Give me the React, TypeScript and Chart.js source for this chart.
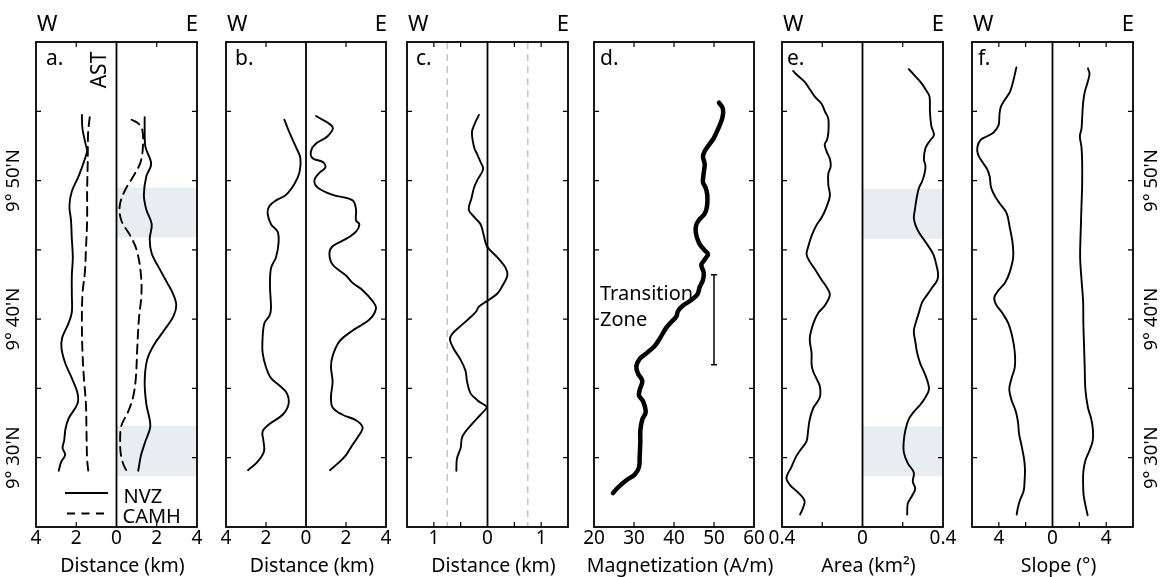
import React, { useEffect, useRef } from 'react';
import { Chart, registerables } from 'chart.js';

Chart.register(...registerables);

const W = 1163;
const H = 577;
const BOX_TOP = 42;
const BOX_BOTTOM = 527;
const FAMILY = '"Noto Sans", "DejaVu Sans", sans-serif';
const fnt = (s: number) => `${s}px ${FAMILY}`;
Chart.defaults.font.family = FAMILY;

// Shared latitude axis (minutes past 9°N)
const latMin = 25;
const latMax = 60;
const latTicks = [30, 35, 40, 45, 50, 55];
const latLabelTicks = [30, 40, 50];

// ---------- a. AST distance (km) ----------
const aNvzWestLat = [54.74, 53.73, 52.54, 52.14, 51.35, 50.29, 49.23, 48.17, 47.12, 45.79, 44.47, 43.15, 41.83, 40.5, 39.71, 38.65, 37.86, 36.8, 35.74, 34.68, 33.89, 32.83, 32.04, 31.24, 30.7, 30.2, 29.7, 29.06];
const aNvzWestKm = [1.72, 1.69, 1.52, 1.46, 1.62, 1.89, 2.22, 2.34, 2.26, 2.22, 2.17, 2.22, 2.22, 2.22, 2.38, 2.7, 2.73, 2.54, 2.22, 1.94, 1.94, 2.38, 2.54, 2.6, 2.68, 2.55, 2.75, 2.87];
const aCamhWestLat = [54.58, 53.47, 51.35, 49.23, 47.12, 45.0, 43.41, 41.83, 39.71, 37.59, 35.74, 33.89, 31.77, 29.92, 29.0];
const aCamhWestKm = [1.33, 1.41, 1.43, 1.46, 1.46, 1.52, 1.57, 1.69, 1.72, 1.69, 1.62, 1.52, 1.49, 1.46, 1.4];
const aNvzEastLat = [54.58, 53.47, 52.41, 51.22, 50.29, 48.97, 47.91, 46.85, 45.79, 44.74, 43.68, 42.62, 41.83, 41.03, 40.24, 39.18, 38.12, 37.06, 35.48, 33.89, 32.3, 31.24, 30.19, 29.06];
const aNvzEastKm = [1.4, 1.4, 1.44, 1.72, 1.48, 1.36, 1.48, 1.75, 1.65, 1.75, 2.12, 2.52, 2.81, 2.97, 2.84, 2.36, 1.85, 1.52, 1.4, 1.48, 1.68, 1.45, 1.22, 1.08];
const aCamhEastLat = [54.39, 54.13, 53.73, 52.67, 51.35, 50.29, 49.23, 48.17, 47.12, 46.06, 45.0, 43.41, 41.83, 39.97, 37.86, 35.74, 34.42, 33.36, 32.3, 31.24, 30.19, 29.39, 28.86];
const aCamhEastKm = [0.75, 1.08, 1.27, 1.32, 1.2, 0.83, 0.4, 0.16, 0.24, 0.67, 1.0, 1.2, 1.24, 1.11, 1.03, 0.96, 0.83, 0.59, 0.24, 0.18, 0.22, 0.38, 0.6];
const aBands = [[45.9, 49.5], [28.65, 32.3]];

// ---------- b. distance (km) ----------
const bWestLat = [54.39, 53.47, 52.41, 51.61, 50.56, 49.76, 48.97, 48.57, 48.17, 47.65, 46.85, 46.32, 45.53, 44.47, 43.68, 42.35, 40.77, 40.24, 39.71, 38.65, 37.59, 36.53, 35.74, 35.21, 34.68, 33.89, 33.1, 32.43, 31.9, 31.24, 30.45, 29.66, 29.1];
const bWestKm = [1.08, 0.83, 0.5, 0.28, 0.33, 0.58, 1.0, 1.5, 1.83, 1.92, 1.75, 1.42, 1.37, 1.5, 1.75, 1.8, 1.75, 1.83, 2.08, 2.17, 2.17, 2.0, 1.75, 1.33, 0.97, 0.87, 1.17, 1.83, 2.17, 2.13, 2.1, 2.45, 2.9];
const bEastLat = [54.66, 53.86, 53.2, 52.67, 52.14, 51.61, 51.35, 50.95, 50.56, 50.03, 49.5, 48.97, 48.57, 47.91, 47.12, 46.85, 46.32, 45.79, 45.26, 44.74, 43.94, 43.15, 42.62, 42.09, 41.3, 40.77, 39.97, 39.18, 38.39, 37.33, 36.53, 35.48, 34.42, 33.62, 33.1, 32.7, 32.17, 31.51, 30.98, 30.19, 29.66, 29.1];
const bEastKm = [0.5, 1.33, 1.08, 0.5, 0.25, 0.33, 0.83, 0.97, 0.67, 0.42, 0.58, 1.33, 2.33, 2.5, 2.5, 2.67, 2.5, 2.0, 1.33, 1.17, 1.33, 2.0, 2.33, 2.83, 3.33, 3.5, 3.17, 2.33, 1.67, 1.33, 1.25, 1.33, 1.25, 1.33, 1.83, 2.5, 2.83, 2.6, 2.35, 2.0, 1.65, 1.2];

// ---------- c. distance (km) ----------
const cLat = [54.74, 53.99, 53.47, 52.41, 51.88, 51.35, 50.82, 50.03, 49.5, 48.7, 47.91, 47.38, 46.85, 46.06, 45.26, 44.47, 43.68, 43.15, 42.35, 41.83, 41.3, 40.9, 40.5, 39.71, 38.92, 38.52, 37.86, 37.06, 36.27, 35.48, 34.68, 34.15, 33.76, 33.62, 33.1, 32.3, 31.51, 30.71, 29.92, 29.06];
const cKm = [-0.16, -0.25, -0.29, -0.25, -0.19, -0.13, -0.08, -0.19, -0.25, -0.3, -0.35, -0.25, -0.13, -0.07, -0.01, 0.18, 0.34, 0.37, 0.27, 0.18, -0.01, -0.16, -0.22, -0.44, -0.66, -0.7, -0.63, -0.5, -0.41, -0.38, -0.32, -0.19, -0.04, -0.01, -0.13, -0.32, -0.47, -0.5, -0.57, -0.58];
const cGuides = [-0.75, 0.75];

// ---------- d. magnetization (A/m) ----------
const dLat = [55.62, 55.17, 54.51, 53.71, 53.05, 52.65, 52.12, 51.72, 51.19, 50.53, 49.87, 49.47, 48.94, 48.14, 47.61, 47.21, 46.82, 46.29, 45.49, 44.96, 44.69, 44.3, 43.9, 43.37, 42.84, 42.31, 41.78, 41.38, 40.98, 40.58, 40.19, 39.79, 39.39, 38.59, 38.06, 37.53, 37.14, 36.6, 36.07, 35.54, 34.88, 34.48, 34.08, 33.29, 32.76, 31.96, 31.17, 30.11, 29.31, 28.78, 28.38, 27.85, 27.45];
const dMag = [51.25, 52.25, 52.08, 51.0, 49.92, 48.92, 47.67, 47.25, 47.67, 47.42, 47.25, 47.92, 48.33, 48.25, 47.67, 46.42, 45.58, 45.42, 46.25, 47.67, 48.5, 47.67, 46.83, 47.42, 47.25, 46.42, 45.83, 44.33, 42.25, 41.0, 40.58, 39.33, 38.08, 36.42, 35.17, 33.08, 31.42, 30.58, 31.0, 32.08, 31.42, 31.25, 32.25, 32.92, 32.08, 31.58, 31.58, 31.42, 31.25, 30.17, 28.08, 26.0, 24.75];
const transitionZoneLat = [36.7, 43.2];
const transitionZoneMag = 50;

// ---------- e. area (km²) ----------
const eWestLat = [57.91, 57.65, 57.12, 56.59, 56.06, 55.53, 55.0, 54.47, 53.41, 52.88, 52.62, 52.09, 51.56, 51.03, 50.5, 49.71, 48.92, 48.12, 47.33, 46.8, 46.01, 45.21, 44.68, 44.15, 43.62, 42.83, 42.3, 41.77, 40.98, 40.45, 39.66, 38.6, 37.54, 36.75, 36.22, 35.69, 35.16, 34.37, 33.57, 32.78, 31.98, 31.19, 30.66, 30.13, 29.34, 28.54, 28.02, 27.49, 26.9, 26.4, 25.9];
const eWestArea = [0.345, 0.328, 0.287, 0.262, 0.237, 0.203, 0.187, 0.17, 0.17, 0.178, 0.188, 0.178, 0.162, 0.158, 0.17, 0.17, 0.162, 0.178, 0.203, 0.228, 0.253, 0.27, 0.278, 0.262, 0.237, 0.203, 0.178, 0.162, 0.187, 0.22, 0.245, 0.262, 0.253, 0.253, 0.245, 0.228, 0.212, 0.212, 0.245, 0.262, 0.27, 0.278, 0.303, 0.328, 0.353, 0.378, 0.36, 0.32, 0.288, 0.295, 0.31];
const eEastLat = [58.04, 57.65, 57.12, 56.59, 56.06, 55.0, 53.94, 53.28, 52.88, 52.35, 51.56, 51.03, 50.5, 49.97, 49.44, 48.65, 47.86, 47.33, 46.8, 46.27, 45.74, 45.21, 44.68, 44.15, 43.36, 42.83, 42.3, 41.77, 41.24, 40.45, 39.66, 39.13, 38.33, 37.54, 36.75, 36.22, 35.42, 34.89, 34.37, 33.84, 33.31, 32.78, 31.98, 31.19, 30.4, 29.6, 28.94, 28.28, 27.75, 27.22, 26.69, 25.9];
const eEastArea = [0.23, 0.255, 0.288, 0.313, 0.333, 0.335, 0.342, 0.355, 0.335, 0.313, 0.305, 0.313, 0.308, 0.297, 0.28, 0.268, 0.26, 0.255, 0.263, 0.28, 0.305, 0.33, 0.352, 0.363, 0.375, 0.372, 0.347, 0.322, 0.297, 0.28, 0.263, 0.255, 0.263, 0.272, 0.288, 0.305, 0.325, 0.33, 0.313, 0.288, 0.255, 0.23, 0.213, 0.205, 0.205, 0.225, 0.255, 0.25, 0.262, 0.245, 0.225, 0.222];
const eBands = [[45.8, 49.4], [28.65, 32.25]];

// ---------- f. slope (°) ----------
const fWestLat = [58.17, 57.17, 56.38, 55.85, 55.32, 54.79, 54.0, 53.47, 53.2, 52.94, 52.41, 51.88, 51.35, 50.82, 50.29, 49.5, 48.84, 48.31, 47.65, 46.59, 45.53, 44.47, 43.41, 42.62, 42.09, 41.56, 41.03, 40.5, 39.71, 38.65, 37.59, 36.53, 35.74, 34.95, 34.15, 33.36, 32.57, 31.77, 30.98, 29.92, 29.13, 28.33, 27.6, 27.0, 26.4, 25.9];
const fWestSlope = [2.69, 2.93, 3.18, 3.54, 3.85, 3.95, 4.02, 4.39, 4.87, 5.36, 5.6, 5.55, 5.24, 4.87, 4.68, 4.58, 4.27, 3.9, 3.42, 3.18, 2.98, 2.93, 3.18, 3.54, 4.02, 4.34, 4.19, 3.78, 3.3, 2.98, 2.81, 2.81, 3.05, 3.22, 3.05, 2.74, 2.57, 2.5, 2.33, 2.12, 2.05, 2.08, 2.15, 2.4, 2.58, 2.67];
const fEastLat = [58.1, 57.7, 57.17, 56.38, 55.58, 54.52, 53.73, 53.2, 52.41, 51.35, 49.76, 48.17, 46.59, 44.47, 42.88, 41.3, 39.71, 38.12, 36.53, 34.95, 33.62, 32.83, 32.04, 31.24, 30.5, 29.8, 29.0, 28.2, 27.3, 26.6, 25.85];
const fEastSlope = [2.64, 2.76, 2.64, 2.4, 2.28, 2.21, 2.16, 2.04, 2.16, 2.21, 2.21, 2.16, 2.11, 2.06, 2.16, 2.28, 2.3, 2.35, 2.4, 2.45, 2.64, 2.88, 3.01, 3.0, 2.75, 2.45, 2.3, 2.28, 2.32, 2.45, 2.62];

type Line = { lat: number[]; val: number[]; sign: number; dash?: number[]; width?: number };
type Panel = {
  id: string;
  letter: string;
  letterDx: number;
  left: number;
  right: number;
  min: number;
  max: number;
  step: number;
  innerTicks: number[];
  labelAt: number[] | null;
  fmt: (v: number) => string;
  title: string;
  lines: Line[];
  zero: boolean;
  we: boolean;
  bands?: number[][];
  guides?: number[];
  yLabels?: 'left' | 'right';
};

const absInt = (v: number) => String(Math.abs(Math.round(v)));
const DASH = [9, 6];

const PANELS: Panel[] = [
  {
    id: 'a', letter: 'a.', letterDx: 10, left: 36, right: 197, min: -4, max: 4, step: 2,
    innerTicks: [-2, 2], labelAt: null, fmt: absInt, title: 'Distance (km)',
    lines: [
      { lat: aNvzWestLat, val: aNvzWestKm, sign: -1 },
      { lat: aCamhWestLat, val: aCamhWestKm, sign: -1, dash: DASH },
      { lat: aNvzEastLat, val: aNvzEastKm, sign: 1 },
      { lat: aCamhEastLat, val: aCamhEastKm, sign: 1, dash: DASH },
    ],
    zero: true, we: true, bands: aBands, yLabels: 'left',
  },
  {
    id: 'b', letter: 'b.', letterDx: 9, left: 226, right: 386, min: -4, max: 4, step: 2,
    innerTicks: [-2, 2], labelAt: null, fmt: absInt, title: 'Distance (km)',
    lines: [
      { lat: bWestLat, val: bWestKm, sign: -1 },
      { lat: bEastLat, val: bEastKm, sign: 1 },
    ],
    zero: true, we: true,
  },
  {
    id: 'c', letter: 'c.', letterDx: 9, left: 407, right: 568, min: -1.5, max: 1.5, step: 0.5,
    innerTicks: [-1, -0.5, 0.5, 1], labelAt: [-1, 0, 1], fmt: absInt, title: 'Distance (km)',
    lines: [{ lat: cLat, val: cKm, sign: 1 }],
    zero: true, we: true, guides: cGuides,
  },
  {
    id: 'd', letter: 'd.', letterDx: 6, left: 594, right: 754, min: 20, max: 60, step: 10,
    innerTicks: [30, 40, 50], labelAt: null, fmt: (v) => String(Math.round(v)), title: 'Magnetization (A/m)',
    lines: [{ lat: dLat, val: dMag, sign: 1, width: 4.5 }],
    zero: false, we: false,
  },
  {
    id: 'e', letter: 'e.', letterDx: 5, left: 782, right: 943, min: -0.4, max: 0.4, step: 0.2,
    innerTicks: [-0.2, 0.2], labelAt: [-0.4, 0, 0.4],
    fmt: (v) => (Math.abs(v) < 1e-6 ? '0' : Math.abs(v).toFixed(1)), title: 'Area (km²)',
    lines: [
      { lat: eWestLat, val: eWestArea, sign: -1 },
      { lat: eEastLat, val: eEastArea, sign: 1 },
    ],
    zero: true, we: true, bands: eBands,
  },
  {
    id: 'f', letter: 'f.', letterDx: 6, left: 972, right: 1133, min: -6, max: 6, step: 2,
    innerTicks: [-4, -2, 2, 4], labelAt: [-4, 0, 4], fmt: absInt, title: 'Slope (°)',
    lines: [
      { lat: fWestLat, val: fWestSlope, sign: -1 },
      { lat: fEastLat, val: fEastSlope, sign: 1 },
    ],
    zero: true, we: true, yLabels: 'right',
  },
];

function rotText(ctx: CanvasRenderingContext2D, text: string, x: number, y: number, size: number) {
  ctx.save();
  ctx.translate(x, y);
  ctx.rotate(-Math.PI / 2);
  ctx.font = fnt(size);
  ctx.textAlign = 'center';
  ctx.textBaseline = 'middle';
  ctx.fillText(text, 0, 0);
  ctx.restore();
}

function makeChart(canvas: HTMLCanvasElement, p: Panel) {
  const datasets: any[] = p.lines.map((l) => ({
    data: l.lat.map((y, i) => ({ x: l.sign * l.val[i], y })),
    showLine: true,
    borderColor: '#000',
    borderWidth: l.width ?? 1.9,
    borderDash: l.dash ?? [],
    borderCapStyle: 'round',
    borderJoinStyle: 'round',
    pointRadius: 0,
    tension: 0.35,
    fill: false,
  }));
  if (p.id === 'd') {
    datasets.push({
      data: transitionZoneLat.map((y) => ({ x: transitionZoneMag, y })),
      showLine: true,
      borderColor: '#000',
      borderWidth: 1.5,
      pointRadius: 0,
      tension: 0,
    });
  }

  const decor = {
    id: 'decor' + p.id,
    beforeDatasetsDraw(chart: any) {
      const { ctx, chartArea: ca } = chart;
      const xs = chart.scales.x;
      const ys = chart.scales.y;
      ctx.save();
      if (p.bands) {
        ctx.fillStyle = 'rgb(232,237,241)';
        const x0 = xs.getPixelForValue(0);
        for (const [lo, hi] of p.bands) {
          const yTop = ys.getPixelForValue(hi);
          const yBot = ys.getPixelForValue(lo);
          ctx.fillRect(x0, yTop, ca.right - x0, yBot - yTop);
        }
      }
      if (p.guides) {
        ctx.strokeStyle = '#c4c4c4';
        ctx.lineWidth = 1.5;
        ctx.setLineDash([7, 5]);
        for (const g of p.guides) {
          const gx = xs.getPixelForValue(g);
          ctx.beginPath();
          ctx.moveTo(gx, ca.top);
          ctx.lineTo(gx, ca.bottom);
          ctx.stroke();
        }
        ctx.setLineDash([]);
      }
      if (p.zero) {
        const x0 = xs.getPixelForValue(0);
        ctx.strokeStyle = '#000';
        ctx.lineWidth = 1.8;
        ctx.beginPath();
        ctx.moveTo(x0, ca.top);
        ctx.lineTo(x0, ca.bottom);
        ctx.stroke();
      }
      ctx.restore();
    },
    afterDatasetsDraw(chart: any) {
      const { ctx, chartArea: ca } = chart;
      const xs = chart.scales.x;
      const ys = chart.scales.y;
      ctx.save();
      ctx.strokeStyle = '#000';
      ctx.fillStyle = '#000';
      // frame
      ctx.lineWidth = 1.8;
      ctx.strokeRect(ca.left, ca.top, ca.right - ca.left, ca.bottom - ca.top);
      // inner ticks
      ctx.lineWidth = 1.2;
      ctx.beginPath();
      for (const t of p.innerTicks) {
        const tx = xs.getPixelForValue(t);
        ctx.moveTo(tx, ca.top);
        ctx.lineTo(tx, ca.top + 5);
        ctx.moveTo(tx, ca.bottom);
        ctx.lineTo(tx, ca.bottom - 5);
      }
      for (const t of latTicks) {
        const ty = ys.getPixelForValue(t);
        ctx.moveTo(ca.left, ty);
        ctx.lineTo(ca.left + 5, ty);
        ctx.moveTo(ca.right, ty);
        ctx.lineTo(ca.right - 5, ty);
      }
      ctx.stroke();

      // axis title
      ctx.font = fnt(19.5);
      ctx.textAlign = 'center';
      ctx.textBaseline = 'alphabetic';
      ctx.fillText(p.title, (ca.left + ca.right) / 2 + 6, 571.5);

      // W / E
      ctx.font = fnt(22);
      if (p.we) {
        ctx.textAlign = 'left';
        ctx.fillText('W', ca.left + 1, 31);
        ctx.textAlign = 'right';
        ctx.fillText('E', ca.right + 1, 31);
      }
      // panel letter
      ctx.font = fnt(21);
      ctx.textAlign = 'left';
      ctx.fillText(p.letter, ca.left + p.letterDx, 65);

      // latitude labels
      if (p.yLabels) {
        const lx = p.yLabels === 'left' ? ca.left - 22 : ca.right + 19;
        for (const m of latLabelTicks) {
          rotText(ctx, `9° ${m}'N`, lx, ys.getPixelForValue(m), 18.5);
        }
      }

      if (p.id === 'a') {
        const x0 = xs.getPixelForValue(0);
        rotText(ctx, 'AST', x0 - 16, ca.top + 28, 21);
        // legend
        ctx.lineWidth = 1.8;
        ctx.beginPath();
        ctx.moveTo(ca.left + 29, 493);
        ctx.lineTo(ca.left + 72, 493);
        ctx.stroke();
        ctx.setLineDash([8, 6.5]);
        ctx.beginPath();
        ctx.moveTo(ca.left + 31, 513.5);
        ctx.lineTo(ca.left + 69, 513.5);
        ctx.stroke();
        ctx.setLineDash([]);
        ctx.font = fnt(20);
        ctx.textAlign = 'left';
        ctx.fillText('NVZ', x0 + 7, 502.5);
        ctx.fillText('CAMH', x0 + 6, 523);
      }

      if (p.id === 'd') {
        const tx = xs.getPixelForValue(transitionZoneMag);
        ctx.lineWidth = 1.5;
        ctx.beginPath();
        for (const l of transitionZoneLat) {
          const ty = ys.getPixelForValue(l);
          ctx.moveTo(tx - 3, ty);
          ctx.lineTo(tx + 3, ty);
        }
        ctx.stroke();
        ctx.font = fnt(20);
        ctx.textAlign = 'left';
        ctx.fillText('Transition', ca.left + 6, 300);
        ctx.fillText('Zone', ca.left + 6, 326);
      }
      ctx.restore();
    },
  };

  return new Chart(canvas, {
    type: 'scatter',
    data: { datasets },
    options: {
      responsive: false,
      maintainAspectRatio: false,
      animation: false,
      devicePixelRatio: 1,
      events: [],
      layout: { padding: { left: p.left, right: W - p.right, top: BOX_TOP, bottom: 0 } },
      plugins: { legend: { display: false }, tooltip: { enabled: false } },
      scales: {
        x: {
          type: 'linear',
          position: 'bottom',
          min: p.min,
          max: p.max,
          grid: { display: false, drawTicks: false },
          border: { display: false },
          ticks: {
            stepSize: p.step,
            autoSkip: false,
            maxRotation: 0,
            minRotation: 0,
            padding: 0,
            color: '#000',
            font: { size: 19 },
            callback: (v: any) => {
              const n = Number(v);
              if (p.labelAt && !p.labelAt.some((t) => Math.abs(t - n) < 1e-6)) return '';
              return p.fmt(n);
            },
          },
          title: { display: false },
          afterFit: (s: any) => {
            s.height = H - BOX_BOTTOM;
            s.paddingLeft = 0;
            s.paddingRight = 0;
          },
        },
        y: { type: 'linear', min: latMin, max: latMax, display: false },
      },
    } as any,
    plugins: [decor as any],
  });
}

export default function App() {
  const refs = useRef<(HTMLCanvasElement | null)[]>([]);
  useEffect(() => {
    const charts = PANELS.map((p, i) => makeChart(refs.current[i] as HTMLCanvasElement, p));
    return () => charts.forEach((c) => c.destroy());
  }, []);
  return (
    <div style={{ position: 'absolute', left: 0, top: 0, width: W, height: H, background: '#fff' }}>
      {PANELS.map((p, i) => (
        <canvas
          key={p.id}
          ref={(el) => {
            refs.current[i] = el;
          }}
          width={W}
          height={H}
          style={{ position: 'absolute', left: 0, top: 0, width: W, height: H }}
        />
      ))}
    </div>
  );
}
